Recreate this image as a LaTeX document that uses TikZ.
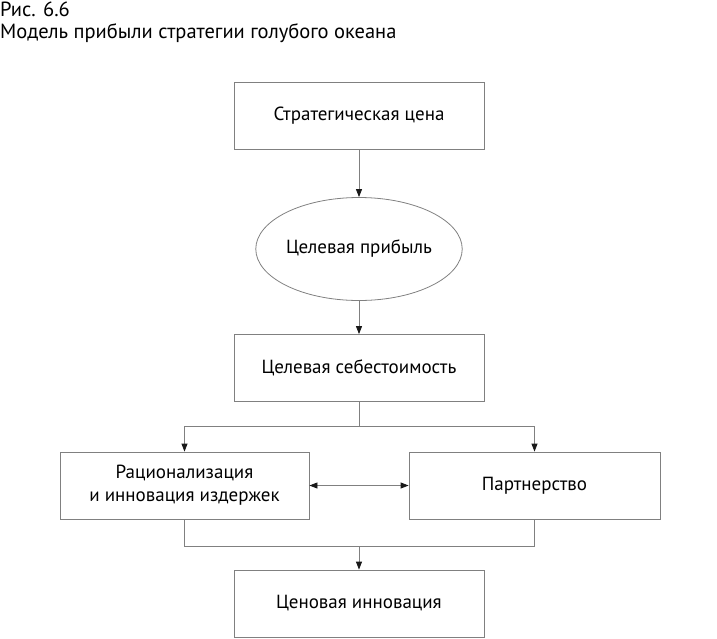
\documentclass[tikz,border=0pt]{standalone}
\usepackage{fontspec}
\setmainfont{PT Sans}
\usetikzlibrary{arrows.meta,shapes.geometric}

\begin{document}
\begin{tikzpicture}[x=1pt,y=-1pt,>={Triangle[length=8pt,width=6pt,color=black!90]},
  font=\fontsize{19}{23}\selectfont,
  box/.style={draw=black!50,line width=.8pt,minimum width=250pt,minimum height=67pt,align=center,inner sep=0pt},
  oval/.style={ellipse,draw=black!50,line width=.8pt,minimum width=194pt,minimum height=103pt,inner sep=0pt},
  link/.style={draw=black!50,line width=.8pt}]
\useasboundingbox (0,0) rectangle (717,638);
% title
\node[anchor=base west,inner sep=0pt,font=\fontsize{20.5}{25}\selectfont] (fig) at (0,16) {Рис. 6.6};
\node[anchor=base west,inner sep=0pt,font=\fontsize{20.5}{25}\selectfont] (title) at (0,38) {Модель прибыли стратегии голубого океана};
% blocks
\node[box] (price) at (359,115.5) {Стратегическая цена};
\node[oval] (profit) at (359,249) {Целевая прибыль};
\node[box] (cost) at (359,368) {Целевая себестоимость};
\node[box,minimum width=249pt] (rational) at (184.5,485.5) {Рационализация\\и инновация издержек};
\node[box,minimum width=251pt] (partner) at (534.5,485.5) {Партнерство};
\node[box] (innov) at (359,603.5) {Ценовая инновация};
\coordinate (split) at (359,426);
\coordinate (join) at (359,546);
% connectors
\draw[link,->] (price) -- (profit);
\draw[link,->] (profit) -- (cost);
\draw[link] (cost) -- (split);
\draw[link,->] (split) -| (rational.north);
\draw[link,->] (split) -| (partner.north);
\draw[link,<->] (rational) -- (partner);
\draw[link] (rational.south) |- (join);
\draw[link] (partner.south) |- (join);
\draw[link,->] (join) -- (innov);
\end{tikzpicture}
\end{document}
